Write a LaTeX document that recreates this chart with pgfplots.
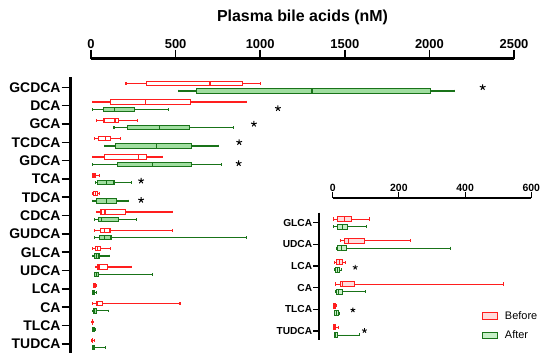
\documentclass[border=0pt]{standalone}
\usepackage{pgfplots}
\pgfplotsset{compat=1.18}
\usepgfplotslibrary{statistics}
\usepackage{fontspec}
\setmainfont{Liberation Sans}
\definecolor{myred}{RGB}{255,30,30}
\definecolor{mygreen}{RGB}{25,115,25}
\definecolor{mygfill}{RGB}{160,222,160}
\definecolor{mygfillB}{RGB}{200,240,200}
\definecolor{myrfill}{RGB}{255,222,222}
\pgfplotsset{
  redbox/.style={forget plot, draw=myred, fill=white, line width=1.1pt,
    boxplot/draw direction=x, boxplot/box extend=#1, boxplot/whisker extend=0.14},
  greenbox/.style={forget plot, draw=mygreen, fill=mygfill, line width=1.1pt,
    boxplot/draw direction=x, boxplot/box extend=#1, boxplot/whisker extend=0.14},
}
% #1 style, #2 position, #3..#7 lw, lq, med, uq, uw
\newcommand{\bx}[7]{\addplot[#1, boxplot prepared={draw position=#2, lower whisker=#3, lower quartile=#4, median=#5, upper quartile=#6, upper whisker=#7}] coordinates {};}
\begin{document}
\begin{tikzpicture}
\useasboundingbox (0,0) rectangle (550bp,-362bp);
\node[anchor=base, font=\bfseries\fontsize{16}{18}\selectfont] at (302.5bp,-21bp) {Plasma bile acids (nM)};
\begin{axis}[at={(70.7bp,-58.5bp)}, anchor=north west, scale only axis,
  width=443.3bp, height=294.6bp,
  xmin=-120, xmax=2500, ymin=-0.571, ymax=15.5, y dir=reverse, clip=false,
  axis line style={draw=none},
  xtick={0,500,1000,1500,2000,2500}, xtick pos=right, xticklabel pos=right,
  ytick={1,...,15}, ytick pos=left,
  yticklabels={GCDCA,DCA,GCA,TCDCA,GDCA,TCA,TDCA,CDCA,GUDCA,GLCA,UDCA,LCA,CA,TLCA,TUDCA},
  tick align=outside, major tick length=9bp, tick style={black, line width=1.6pt},
  /pgf/number format/1000 sep={}, /pgf/number format/assume math mode=true,
  xticklabel style={font=\bfseries\fontsize{13}{15}\selectfont, inner sep=0.5pt},
  yticklabel style={font=\bfseries\fontsize{14}{16}\selectfont, inner sep=1pt},
]
\draw[line width=3.5bp] (axis cs:0,-0.571) -- (axis cs:2500,-0.571);
\draw[line width=3.4bp] (axis cs:-120,0.44) -- (axis cs:-120,15.5);
% GCDCA
\bx{redbox=0.24}{0.8}{207}{329}{703}{897}{1003}
\bx{greenbox=0.24}{1.2}{516}{625}{1306}{2005}{2147}
% DCA
\bx{redbox=0.24}{1.8}{8}{116}{321}{589}{920}
\bx{greenbox=0.24}{2.2}{8}{73}{138}{256}{459}
% GCA
\bx{redbox=0.24}{2.8}{34}{77}{142}{164}{274}
\bx{greenbox=0.24}{3.2}{136}{217}{404}{581}{841}
% TCDCA
\bx{redbox=0.24}{3.8}{22}{46}{85}{116}{176}
\bx{greenbox=0.24}{4.2}{81}{146}{388}{595}{752}
% GDCA
\bx{redbox=0.24}{4.8}{8}{79}{282}{329}{421}
\bx{greenbox=0.24}{5.2}{8}{158}{365}{595}{772}
% TCA
\bx{redbox=0.24}{5.8}{8}{12}{18}{26}{49}
\bx{greenbox=0.24}{6.2}{24}{37}{89}{136}{242}
% TDCA
\bx{redbox=0.24}{6.8}{8}{16}{25}{37}{49}
\bx{greenbox=0.24}{7.2}{8}{31}{93}{152}{220}
% CDCA
\bx{redbox=0.24}{7.8}{34}{59}{83}{203}{480}
\bx{greenbox=0.24}{8.2}{20}{46}{63}{164}{270}
% GUDCA
\bx{redbox=0.24}{8.8}{20}{57}{79}{112}{480}
\bx{greenbox=0.24}{9.2}{22}{49}{79}{118}{920}
% GLCA
\bx{redbox=0.24}{9.8}{8}{24}{40}{57}{116}
\bx{greenbox=0.24}{10.2}{8}{20}{34}{47}{108}
% UDCA
\bx{redbox=0.24}{10.8}{28}{40}{47}{96}{242}
\bx{greenbox=0.24}{11.2}{18}{22}{31}{46}{365}
% LCA
\bx{redbox=0.24}{11.8}{14}{16}{20}{28}{35}
\bx{greenbox=0.24}{12.2}{8}{10}{14}{22}{30}
% CA
\bx{redbox=0.24}{12.8}{8}{30}{37}{67}{526}
\bx{greenbox=0.24}{13.2}{12}{14}{22}{34}{105}
% TLCA
\bx{redbox=0.24}{13.8}{6}{7}{8}{10}{12}
\bx{greenbox=0.24}{14.2}{8}{10}{16}{22}{28}
% TUDCA
\bx{redbox=0.24}{14.8}{6}{7}{9}{11}{20}
\bx{greenbox=0.24}{15.2}{10}{12}{16}{22}{85}
\addplot[forget plot, only marks, mark=star, mark size=3, black, line width=1pt]
  coordinates {(2315,1.0) (1105,2.15) (963,3.0) (876,4.0) (873,5.15) (296,6.1) (296,7.15)};
\end{axis}
\begin{axis}[at={(319.3bp,-198.3bp)}, anchor=north west, scale only axis,
  width=212bp, height=141.6bp,
  xmin=-40.5, xmax=600, ymin=-0.126, ymax=6.41, y dir=reverse, clip=false,
  axis line style={draw=none},
  xtick={0,200,400,600}, xtick pos=right, xticklabel pos=right,
  ytick={1,...,6}, ytick pos=left,
  yticklabels={GLCA,UDCA,LCA,CA,TLCA,TUDCA},
  tick align=outside, major tick length=6bp, tick style={black, line width=1.1pt},
  /pgf/number format/assume math mode=true,
  xticklabel style={font=\bfseries\fontsize{10.5}{12}\selectfont, inner sep=0.5pt},
  yticklabel style={font=\bfseries\fontsize{10.2}{12}\selectfont, inner sep=1pt},
  legend style={at={(axis cs:451,4.98)}, anchor=north west, draw=none, fill=none,
    inner sep=0pt, row sep=6bp, font=\fontsize{11}{13}\selectfont,
    /tikz/every odd column/.append style={column sep=5bp}},
  legend cell align=left,
  redbox/.append style={fill=myrfill, line width=0.8pt},
  greenbox/.append style={fill=mygfillB, line width=0.8pt},
]
\draw[line width=1.8pt] (axis cs:0,-0.126) -- (axis cs:600,-0.126);
\draw[line width=1.8pt] (axis cs:-40.5,0.54) -- (axis cs:-40.5,6.41);
\bx{redbox=0.23}{0.83}{2}{15}{34}{55}{110}
\bx{greenbox=0.23}{1.18}{2}{14}{29}{44}{103}
\bx{redbox=0.23}{1.83}{22}{35}{48}{96}{234}
\bx{greenbox=0.23}{2.18}{12}{13}{25}{42}{357}
\bx{redbox=0.23}{2.83}{5}{12}{19}{30}{37}
\bx{greenbox=0.23}{3.18}{5}{8}{13}{19}{25}
\bx{redbox=0.23}{3.83}{9}{22}{30}{65}{517}
\bx{greenbox=0.23}{4.18}{8}{10}{18}{30}{100}
\bx{redbox=0.23}{4.83}{2}{3}{5}{8}{11}
\bx{greenbox=0.23}{5.18}{4}{5}{11}{17}{19}
\bx{redbox=0.23}{5.83}{2}{3}{5}{7}{17}
\bx{greenbox=0.23}{6.18}{4}{5}{9}{15}{80}
\addplot[forget plot, only marks, mark=star, mark size=2.5, black, line width=0.9pt]
  coordinates {(68,3.06) (61,5.03) (96,5.98)};
\addlegendimage{legend image code/.code={\draw[draw=myred,fill=myrfill,line width=0.8pt] (0bp,-3.3bp) rectangle (15bp,3.3bp);}}
\addlegendentry{Before}
\addlegendimage{legend image code/.code={\draw[draw=mygreen,fill=mygfillB,line width=0.8pt] (0bp,-3.3bp) rectangle (15bp,3.3bp);}}
\addlegendentry{After}
\end{axis}
\end{tikzpicture}
\end{document}
